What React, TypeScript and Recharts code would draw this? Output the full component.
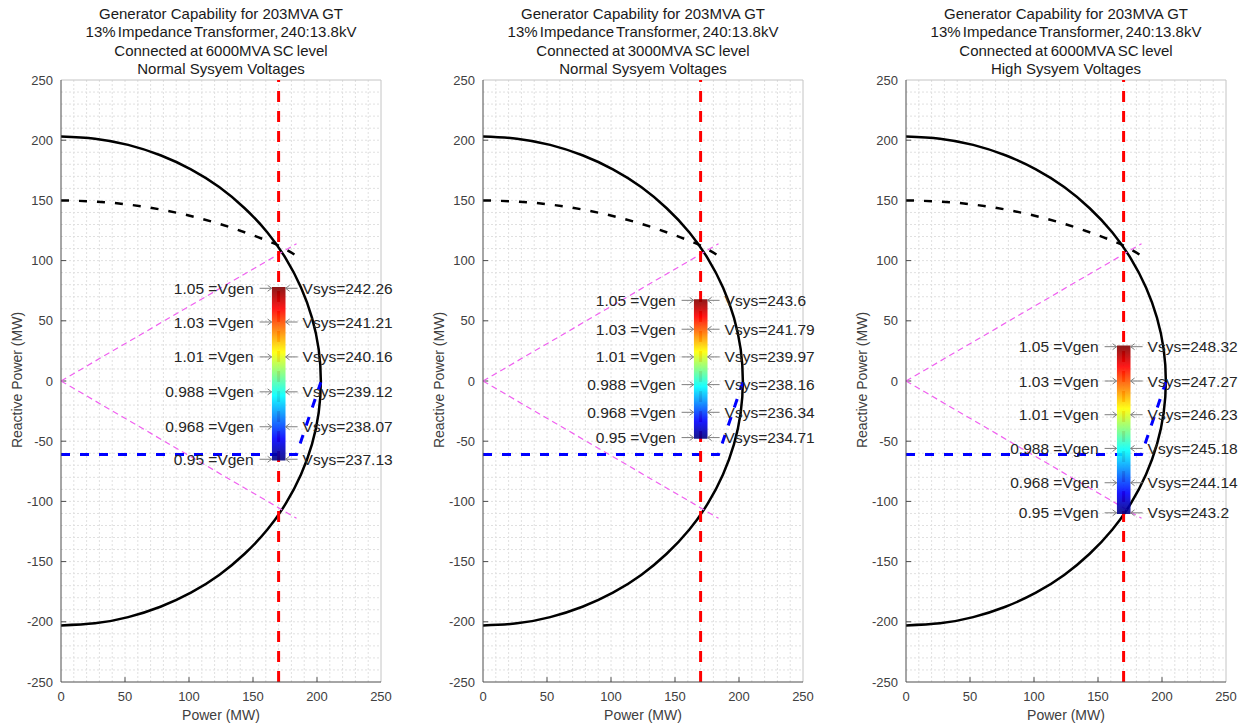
import React from 'react'
import {
    ComposedChart, Line, Scatter, XAxis, YAxis, ReferenceLine, ReferenceArea
} from 'recharts'

const FONT = '"Liberation Sans", Arial, sans-serif'

const xTicks = [0, 50, 100, 150, 200, 250]
const yTicks = [-250, -200, -150, -100, -50, 0, 50, 100, 150, 200, 250]
const xMinor = [10, 20, 30, 40, 50, 60, 70, 80, 90, 100, 110, 120, 130, 140, 150, 160, 170, 180, 190, 200, 210, 220, 230, 240]
const yMinor = [-240, -230, -220, -210, -200, -190, -180, -170, -160, -150, -140, -130, -120, -110, -100, -90, -80, -70, -60, -50, -40, -30, -20, -10,
    0, 10, 20, 30, 40, 50, 60, 70, 80, 90, 100, 110, 120, 130, 140, 150, 160, 170, 180, 190, 200, 210, 220, 230, 240]

// 203MVA capability circle (P, Q)
const capabilityP = [0, 26.5, 52.5, 77.7, 101.5, 123.6, 143.5, 161.1, 175.8, 187.5, 196.1, 201.3, 203,
    201.3, 196.1, 187.5, 175.8, 161.1, 143.5, 123.6, 101.5, 77.7, 52.5, 26.5, 0]
const capabilityQ = [203, 201.3, 196.1, 187.5, 175.8, 161.1, 143.5, 123.6, 101.5, 77.7, 52.5, 26.5, 0,
    -26.5, -52.5, -77.7, -101.5, -123.6, -143.5, -161.1, -175.8, -187.5, -196.1, -201.3, -203]

// dashed limit arc
const arcP = [0, 40, 80, 120, 150, 170, 184]
const arcQ = [150, 148, 142, 131.7, 121, 112.4, 104]

// under-excitation limit (blue)
const uelP = [0, 184, 203]
const uelQ = [-61, -61, -1]

// power factor lines (magenta)
const pfUpper = [{ p: 0, q: 0 }, { p: 184, q: 114 }]
const pfLower = [{ p: 0, q: 0 }, { p: 184, q: -114 }]

const turbine = [{ p: 170, q: -250 }, { p: 170, q: 250 }]
const turbineP = 170

const vgenLabels = ['1.05', '1.03', '1.01', '0.988', '0.968', '0.95']

const qNormal6000 = [77, 49, 20, -9, -38, -65]
const vsysNormal6000 = ['242.26', '241.21', '240.16', '239.12', '238.07', '237.13']

const qNormal3000 = [67, 43, 20, -3, -26, -47]
const vsysNormal3000 = ['243.6', '241.79', '239.97', '238.16', '236.34', '234.71']

const qHigh6000 = [28.5, 0, -28, -56, -84.5, -109.5]
const vsysHigh6000 = ['248.32', '247.27', '246.23', '245.18', '244.14', '243.2']

const titleTop = ['Generator Capability for 203MVA GT', '13% Impedance Transformer, 240:13.8kV']

const panels = [
    { left: 0, sc: 'Connected at 6000MVA SC level', volt: 'Normal Sysyem Voltages', q: qNormal6000, vsys: vsysNormal6000 },
    { left: 422, sc: 'Connected at 3000MVA SC level', volt: 'Normal Sysyem Voltages', q: qNormal3000, vsys: vsysNormal3000 },
    { left: 845, sc: 'Connected at 6000MVA SC level', volt: 'High Sysyem Voltages', q: qHigh6000, vsys: vsysHigh6000 },
]

const zip = (ps: number[], qs: number[]) => ps.map((p, i) => ({ p, q: qs[i] }))

const capability = zip(capabilityP, capabilityQ)
const arc = zip(arcP, arcQ)
const uel = zip(uelP, uelQ)

const VoltMarker = (props: any) => {
    const { cx, cy, payload } = props
    const g = '#7f7f7f'
    return (
        <g>
            <line x1={cx - 19} y1={cy} x2={cx - 7} y2={cy} stroke={g} />
            <polyline points={`${cx - 11},${cy - 3} ${cx - 7},${cy} ${cx - 11},${cy + 3}`} fill="none" stroke={g} />
            <line x1={cx + 7} y1={cy} x2={cx + 19} y2={cy} stroke={g} />
            <polyline points={`${cx + 11},${cy - 3} ${cx + 7},${cy} ${cx + 11},${cy + 3}`} fill="none" stroke={g} />
            <text x={cx - 25} y={cy} textAnchor="end" dominantBaseline="central" fontSize={15.5} fill="#262626" fontFamily={FONT}>
                {`${payload.vgen} =Vgen`}
            </text>
            <text x={cx + 24} y={cy} textAnchor="start" dominantBaseline="central" fontSize={15.5} fill="#262626" fontFamily={FONT}>
                {`Vsys=${payload.vsys}`}
            </text>
        </g>
    )
}

function Panel({ idx, panel }: { idx: number, panel: any }) {
    const points = panel.q.map((q: number, i: number) => ({ p: turbineP, q, vgen: vgenLabels[i], vsys: panel.vsys[i] }))
    const qMax = Math.max(...panel.q)
    const qMin = Math.min(...panel.q)
    const gradId = `jet${idx}`
    return (
        <div style={{ position: 'absolute', left: panel.left, top: 0, width: 400, height: 725 }}>
            <div style={{ position: 'absolute', left: 61, top: 5, width: 320, textAlign: 'center', fontFamily: FONT, fontSize: 15, lineHeight: '18.4px', color: '#1a1a1a', whiteSpace: 'nowrap' }}>
                <div>{titleTop[0]}</div>
                <div style={{ wordSpacing: -2 }}>{titleTop[1]}</div>
                <div style={{ wordSpacing: -1 }}>{panel.sc}</div>
                <div>{panel.volt}</div>
            </div>
            <ComposedChart width={400} height={725} margin={{ top: 80, right: 19, bottom: 13, left: 21 }} style={{ overflow: 'visible' }}>
                <defs>
                    <linearGradient id={gradId} x1="0" y1="1" x2="0" y2="0">
                        <stop offset="0" stopColor="#00007f" />
                        <stop offset="0.125" stopColor="#0000ff" />
                        <stop offset="0.375" stopColor="#00ffff" />
                        <stop offset="0.625" stopColor="#ffff00" />
                        <stop offset="0.875" stopColor="#ff0000" />
                        <stop offset="1" stopColor="#7f0000" />
                    </linearGradient>
                </defs>
                <XAxis dataKey="p" type="number" domain={[0, 250]} ticks={xTicks}
                    height={30} stroke="#4d4d4d" tickLine={false} tickMargin={4}
                    tick={{ fill: '#404040', fontSize: 13, fontFamily: FONT }} />
                <YAxis dataKey="q" type="number" domain={[-250, 250]} ticks={yTicks}
                    width={40} stroke="#4d4d4d" tickLine={false}
                    tick={{ fill: '#404040', fontSize: 13, fontFamily: FONT }} />
                {xMinor.map(v => (
                    <ReferenceLine key={`gx${v}`} x={v} stroke="#e0e0e0" strokeDasharray="2 2" zIndex={-50} />
                ))}
                {yMinor.map(v => (
                    <ReferenceLine key={`gy${v}`} y={v} stroke="#e0e0e0" strokeDasharray="2 2" zIndex={-50} />
                ))}
                <ReferenceLine y={250} stroke="#c4c4c4" />
                <ReferenceLine x={250} stroke="#c4c4c4" />
                {xTicks.slice(1, -1).map(v => (
                    <ReferenceLine key={`tx${v}`} segment={[{ x: v, y: -250 }, { x: v, y: -246 }]} stroke="#4d4d4d" />
                ))}
                {yTicks.slice(1, -1).map(v => (
                    <ReferenceLine key={`ty${v}`} segment={[{ x: 0, y: v }, { x: 4, y: v }]} stroke="#4d4d4d" />
                ))}
                <Line data={capability} dataKey="q" type="natural" stroke="#000" strokeWidth={2.5} dot={false} activeDot={false} isAnimationActive={false} />
                <Line data={arc} dataKey="q" type="monotone" stroke="#000" strokeWidth={2.5} strokeDasharray="8 10" dot={false} activeDot={false} isAnimationActive={false} />
                <Line data={pfUpper} dataKey="q" type="linear" stroke="#f060f0" strokeWidth={1.2} strokeDasharray="6 4" dot={false} activeDot={false} isAnimationActive={false} />
                <Line data={pfLower} dataKey="q" type="linear" stroke="#f060f0" strokeWidth={1.2} strokeDasharray="6 4" dot={false} activeDot={false} isAnimationActive={false} />
                <Line data={uel} dataKey="q" type="linear" stroke="#0000ff" strokeWidth={3} strokeDasharray="9 10" dot={false} activeDot={false} isAnimationActive={false} />
                <Line data={turbine} dataKey="q" type="linear" stroke="#ff0000" strokeWidth={3} strokeDasharray="11 9" dot={false} activeDot={false} isAnimationActive={false} />
                <ReferenceArea x1={164.8} x2={175.4} y1={qMin - 1} y2={qMax + 1} fill={`url(#${gradId})`} fillOpacity={0.9} stroke="none" zIndex={500} />
                <Scatter data={points} dataKey="q" shape={VoltMarker} isAnimationActive={false} />
            </ComposedChart>
            <div style={{ position: 'absolute', left: 61, top: 707, width: 320, textAlign: 'center', fontFamily: FONT, fontSize: 14, color: '#404040' }}>
                Power (MW)
            </div>
            <div style={{ position: 'absolute', left: -83, top: 372, width: 200, textAlign: 'center', fontFamily: FONT, fontSize: 14, color: '#404040', transform: 'rotate(-90deg)' }}>
                Reactive Power (MW)
            </div>
        </div>
    )
}

export default function App() {
    return (
        <div style={{ position: 'absolute', left: 0, top: 0, width: 1244, height: 725, background: '#fff', overflow: 'hidden' }}>
            {panels.map((panel, i) => (
                <Panel key={i} idx={i} panel={panel} />
            ))}
        </div>
    )
}
